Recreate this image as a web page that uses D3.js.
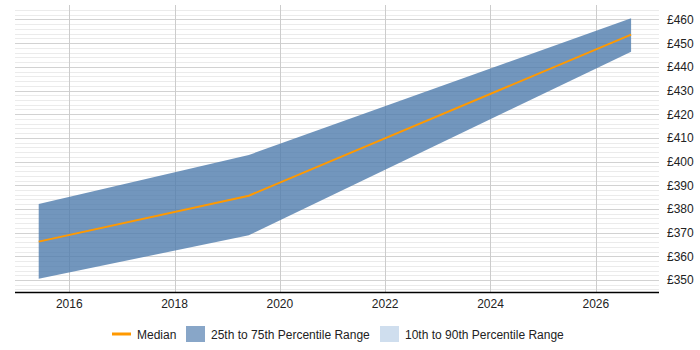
<!DOCTYPE html>
<html>
<head>
<meta charset="utf-8">
<script src="https://cdn.jsdelivr.net/npm/d3@7.9.0/dist/d3.min.js"></script>
<style>
  body { margin: 0; background: #fff; }
  svg { display: block; font-family: "Liberation Sans", Arial, sans-serif; }
</style>
</head>
<body>
<svg id="chart" width="700" height="350"></svg>
<script>
// data
const years = [2015.42, 2019.41, 2026.67];
const median = [366.2, 385.6, 453.6];
const p25 = [350.5, 368.9, 446.4];
const p75 = [382.1, 402.8, 460.5];
const xTicks = [2016, 2018, 2020, 2022, 2024, 2026];
const yTicks = [350, 360, 370, 380, 390, 400, 410, 420, 430, 440, 450, 460];

const svg = d3.select('#chart');
const plotLeft = 15, plotRight = 659, plotTop = 5, plotBottom = 292;

const x = d3.scaleLinear().domain([2014.97, 2027.2]).range([plotLeft, plotRight]);
const y = d3.scaleLinear().domain([344.93, 466.12]).range([plotBottom, plotTop]);

//minor gridlines every £2
const minor = d3.range(346, 466, 2).filter(v => v % 10 !== 0);
svg.append('g').selectAll('line').data(minor).join('line')
    .attr('x1', plotLeft).attr('x2', plotRight)
    .attr('y1', d => Math.round(y(d)) + 0.5).attr('y2', d => Math.round(y(d)) + 0.5)
    .attr('stroke', '#ebebeb');

//major gridlines
svg.append('g').selectAll('line').data(yTicks).join('line')
    .attr('x1', plotLeft).attr('x2', plotRight)
    .attr('y1', d => Math.round(y(d)) + 0.5).attr('y2', d => Math.round(y(d)) + 0.5)
    .attr('stroke', '#d2d2d2');

//vertical gridlines
svg.append('g').selectAll('line').data(xTicks).join('line')
    .attr('x1', d => Math.round(x(d)) + 0.5).attr('x2', d => Math.round(x(d)) + 0.5)
    .attr('y1', plotTop).attr('y2', plotBottom)
    .attr('stroke', '#cccccc');

const rows = years.map((yr, i) => ({ yr, med: median[i], lo: p25[i], hi: p75[i] }));

//25-75 band
const area = d3.area().x(d => x(d.yr)).y0(d => y(d.lo)).y1(d => y(d.hi));
svg.append('path').datum(rows)
    .attr('d', area)
    .attr('fill', '#4f7cad')
    .attr('fill-opacity', 0.8);

//median line
const line = d3.line().x(d => x(d.yr)).y(d => y(d.med));
svg.append('path').datum(rows)
    .attr('d', line)
    .attr('fill', 'none')
    .attr('stroke', '#ff9900')
    .attr('stroke-width', 2);

//x axis
svg.append('line')
    .attr('x1', plotLeft).attr('x2', plotRight)
    .attr('y1', plotBottom + 0.5).attr('y2', plotBottom + 0.5)
    .attr('stroke', '#000').attr('stroke-width', 1.5);
svg.append('g').selectAll('text').data(xTicks).join('text')
    .attr('x', d => x(d)).attr('y', 308)
    .attr('text-anchor', 'middle')
    .attr('font-size', 12).attr('fill', '#222')
    .text(d => d);

//y axis labels
svg.append('g').selectAll('text').data(yTicks).join('text')
    .attr('x', 667).attr('y', d => y(d) + 4.5)
    .attr('font-size', 12).attr('fill', '#222')
    .text(d => '£' + d);

//legend
const lg = svg.append('g').attr('font-size', 12).attr('fill', '#222');
lg.append('line').attr('x1', 112).attr('x2', 131).attr('y1', 334).attr('y2', 334)
    .attr('stroke', '#ff9900').attr('stroke-width', 3);
lg.append('text').attr('x', 137).attr('y', 338.5).text('Median');
lg.append('rect').attr('x', 186).attr('y', 326).attr('width', 19).attr('height', 16)
    .attr('fill', '#88a6c8');
lg.append('text').attr('x', 211).attr('y', 338.5).text('25th to 75th Percentile Range');
lg.append('rect').attr('x', 380).attr('y', 326).attr('width', 19).attr('height', 16)
    .attr('fill', '#cfdeee');
lg.append('text').attr('x', 405).attr('y', 338.5).text('10th to 90th Percentile Range');
</script>
</body>
</html>
